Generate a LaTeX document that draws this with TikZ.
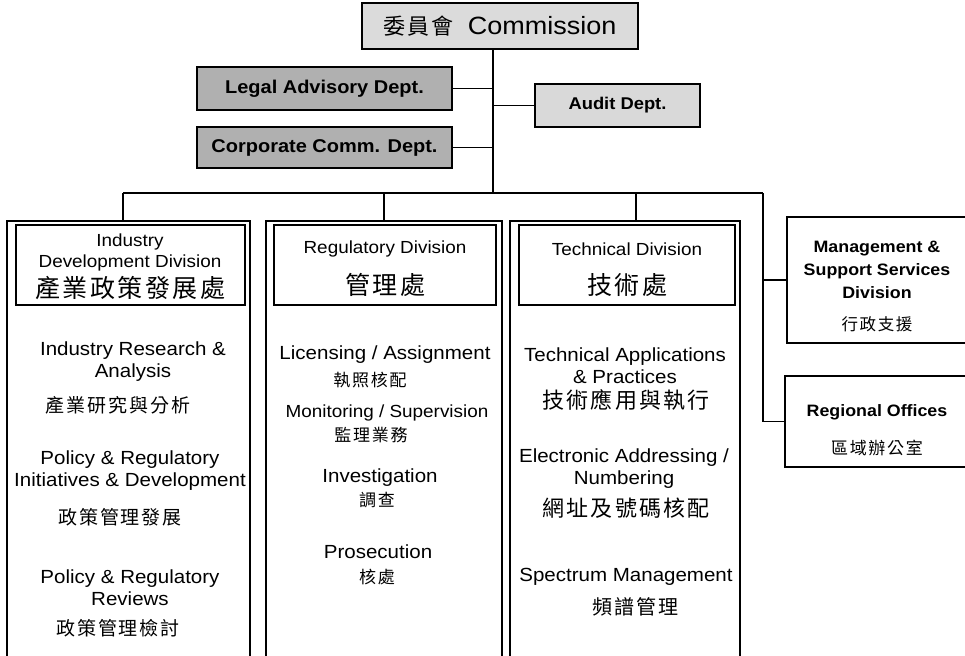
\documentclass[tikz,border=0pt]{standalone}
\usepackage{fontspec}
\setmainfont{Liberation Sans}[FakeStretch=1.08]
\newfontfamily\cjk{Noto Sans CJK TC}[LetterSpace=10]
\usetikzlibrary{positioning}
\tikzstyle{post}=[line width=1.4pt]
\tikzstyle{topbox}=[draw,line width=1.6pt,fill=gray!28,inner sep=0pt]
\tikzstyle{deptbox}=[draw,line width=1.6pt,fill=gray!62,inner sep=0pt,font=\fontsize{18.5}{20}\selectfont\bfseries]
\tikzstyle{auditbox}=[draw,line width=1.6pt,fill=gray!30,inner sep=0pt,font=\fontsize{17}{20}\selectfont\bfseries]
\tikzstyle{divbox}=[draw,line width=1.6pt,inner sep=0pt]
\tikzstyle{headbox}=[draw,line width=1.4pt,inner sep=0pt,minimum height=80pt]
\tikzstyle{headtxt}=[align=center,inner sep=0pt,font=\fontsize{17.5}{21}\selectfont]
\tikzstyle{headcjk}=[inner sep=0pt,font=\cjk\fontsize{25}{28}\selectfont]
\tikzstyle{unit}=[align=center,inner sep=0pt,font=\fontsize{19}{22}\selectfont]
\tikzstyle{unitcjk}=[inner sep=0pt,font=\cjk\fontsize{19}{22}\selectfont]
\tikzstyle{sidetxt}=[align=center,inner sep=0pt,font=\fontsize{16.5}{23}\selectfont\bfseries]
\tikzstyle{sidecjk}=[inner sep=0pt,font=\cjk\fontsize{16.5}{20}\selectfont]

\begin{document}
\begin{tikzpicture}[x=1pt,y=-1pt]
\useasboundingbox (0,0) rectangle (965,655);

% top level
\node[topbox,minimum width=276pt,minimum height=46pt] (com) at (500,26)
  {{\cjk\fontsize{22}{26}\selectfont 委員會}\hspace{14pt}\fontsize{25}{28}\selectfont Commission};
\node[deptbox,minimum width=255pt,minimum height=43pt] (legal) at (324.5,88.5) {Legal Advisory Dept.};
\node[deptbox,minimum width=255pt,minimum height=41pt] (corp) at (324.5,147.5) {Corporate Comm. Dept.};
\node[auditbox,minimum width=165pt,minimum height=43pt] (audit) at (617.5,105.5) {Audit Dept.};

\coordinate (bus) at (493,193);
\coordinate (busL) at (123,193);
\coordinate (busR) at (763,193);
\coordinate (techdrop) at (636,193);

% divisions
\node[divbox,minimum width=243pt,minimum height=439pt] (ind) at (128.5,440.5) {};
\node[divbox,minimum width=236pt,minimum height=439pt] (reg) at (384,440.5) {};
\node[divbox,minimum width=230pt,minimum height=439pt] (tech) at (625,440.5) {};
\node[headbox,minimum width=229pt] (indhead) at (130.5,265) {};
\node[headbox,minimum width=222pt] (reghead) at (385,265) {};
\node[headbox,minimum width=216pt] (techhead) at (627,265) {};

\node[divbox,minimum width=180pt,minimum height=126pt] (mgt) at (877,280) {};
\node[divbox,minimum width=182pt,minimum height=91pt] (rgo) at (876,421.5) {};

% header texts
\node[headtxt] (indh) at (130,252) {Industry\\Development Division};
\node[headcjk] (indhc) at (130,288) {產業政策發展處};
\node[headtxt] (regh) at (385,249) {Regulatory Division};
\node[headcjk] (reghc) at (385,285) {管理處};
\node[headtxt] (techh) at (627,249) {Technical Division};
\node[headcjk] (techhc) at (627,285) {技術處};

% industry development units
\node[unit] (ira) at (133,362) {Industry Research \&\\Analysis};
\node[unitcjk] (irac) at (118,405) {產業研究與分析};
\node[unit] (prid) at (130,471) {Policy \& Regulatory\\Initiatives \& Development};
\node[unitcjk] (pridc) at (120,517) {政策管理發展};
\node[unit] (prr) at (130,588) {Policy \& Regulatory\\Reviews};
\node[unitcjk] (prrc) at (118,628) {政策管理檢討};

% regulatory units
\node[unit] (lic) at (385,355) {Licensing / Assignment};
\node[unitcjk,font=\cjk\fontsize{17}{20}\selectfont] (licc) at (370,380) {執照核配};
\node[unit,font=\fontsize{17.5}{20}\selectfont] (mon) at (387,413) {Monitoring / Supervision};
\node[unitcjk,font=\cjk\fontsize{17}{20}\selectfont] (monc) at (371,435) {監理業務};
\node[unit] (inv) at (380,478) {Investigation};
\node[unitcjk,font=\cjk\fontsize{17}{20}\selectfont] (invc) at (377,500) {調查};
\node[unit] (pro) at (378,552) {Prosecution};
\node[unitcjk,font=\cjk\fontsize{17}{20}\selectfont] (proc) at (377,577) {核處};

% technical units
\node[unit] (tap) at (625,366) {Technical Applications\\\& Practices};
\node[unitcjk,font=\cjk\fontsize{22}{24}\selectfont] (tapc) at (626,400) {技術應用與執行};
\node[unit] (ean) at (624,469) {Electronic Addressing /\\Numbering};
\node[unitcjk,font=\cjk\fontsize{22}{24}\selectfont] (eanc) at (626,508) {網址及號碼核配};
\node[unit] (spm) at (626,577) {Spectrum Management};
\node[unitcjk,font=\cjk\fontsize{20}{24}\selectfont] (spmc) at (635,607) {頻譜管理};

% side divisions
\node[sidetxt] (mgth) at (877,270) {Management \&\\Support Services\\Division};
\node[sidecjk] (mgtc) at (877,324) {行政支援};
\node[sidetxt] (rgoh) at (877,412) {Regional Offices};
\node[sidecjk,font=\cjk\fontsize{17}{20}\selectfont] (rgoc) at (877,448) {區域辦公室};

% connectors
\draw[post] (com.south -| bus) -- (bus);
\draw[post] (legal.east) -- (legal.east -| bus);
\draw[post] (corp.east) -- (corp.east -| bus);
\draw[post] (audit.west) -- (audit.west -| bus);
\draw[post] (busL) -- (busR);
\draw[post] (busL) -- (busL |- ind.north);
\draw[post] (reg.north |- bus) -- (reg.north);
\draw[post] (techdrop) -- (techdrop |- tech.north);
\draw[post] (busR) -- (busR |- rgo.west) -- (rgo.west);
\draw[post] (mgt.west) -- (mgt.west -| busR);

\end{tikzpicture}
\end{document}
